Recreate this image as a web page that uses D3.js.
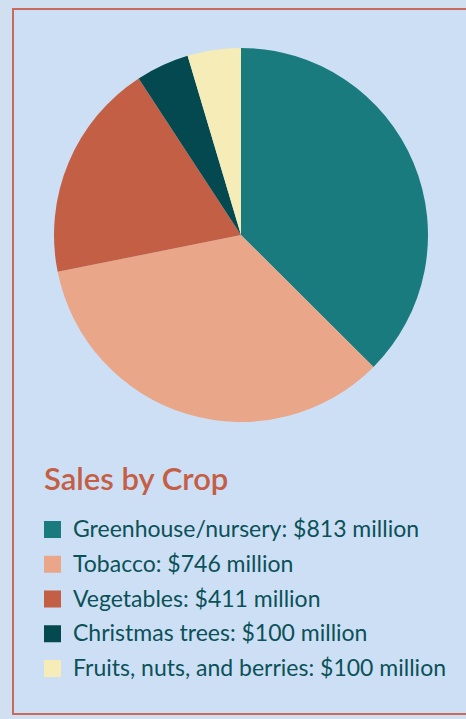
<!DOCTYPE html>
<html>
<head>
<meta charset="utf-8">
<script src="https://cdn.jsdelivr.net/npm/d3@7"></script>
<style>
  html, body { margin: 0; padding: 0; background: #d0e0f0; }
  svg { display: block; }
</style>
</head>
<body>
<svg id="chart" width="466" height="719"></svg>
<script>
// Farm sales by crop, in millions of dollars
const crops = ["Greenhouse/nursery", "Tobacco", "Vegetables", "Christmas trees", "Fruits, nuts, and berries"];
const sales = [813, 746, 411, 100, 100];
const colors = ["#1a7b7f", "#e9a688", "#c35f45", "#04494f", "#f6ecb8"];
const title = "Sales by Crop";

const W = 466, H = 719;
const svg = d3.select("#chart");

// Panel with a thin terracotta frame on left, top and bottom
svg.append("rect").attr("x", 13).attr("y", 9).attr("width", W - 13).attr("height", 705)
  .attr("fill", "#cddff4");
svg.append("path")
  .attr("d", `M${W},9 H13 V714 H${W}`)
  .attr("fill", "none").attr("stroke", "#c86a5c").attr("stroke-width", 2);

// Pie, starting at 12 o'clock and running clockwise
const cx = 241, cy = 235, r = 187;
const pie = d3.pie().value(d => d.value).sort(null);
const arc = d3.arc().innerRadius(0).outerRadius(r);
const data = crops.map((c, i) => ({ name: c, value: sales[i], color: colors[i] }));

svg.append("g").attr("transform", `translate(${cx},${cy})`)
  .selectAll("path").data(pie(data)).join("path")
  .attr("d", arc).attr("fill", d => d.data.color);

// Title
svg.append("text").attr("x", 44).attr("y", 490)
  .attr("font-family", "Lato, 'Open Sans', sans-serif")
  .attr("font-weight", 600).attr("font-size", 31)
  .attr("fill", "#c45e44").text(title);

// Legend
const rowY = d3.scalePoint().domain(crops).range([537, 676]);
const fmt = v => `$${v} million`;
const legend = svg.append("g").selectAll("g").data(data).join("g")
  .attr("transform", d => `translate(0,${rowY(d.name)})`);
legend.append("rect").attr("x", 44).attr("y", -16).attr("width", 17).attr("height", 17)
  .attr("fill", d => d.color);
legend.append("text").attr("x", 73).attr("y", 0)
  .attr("font-family", "Lato, 'Open Sans', sans-serif")
  .attr("font-size", 23).attr("fill", "#0b5158")
  .text(d => `${d.name}: ${fmt(d.value)}`);
</script>
</body>
</html>
